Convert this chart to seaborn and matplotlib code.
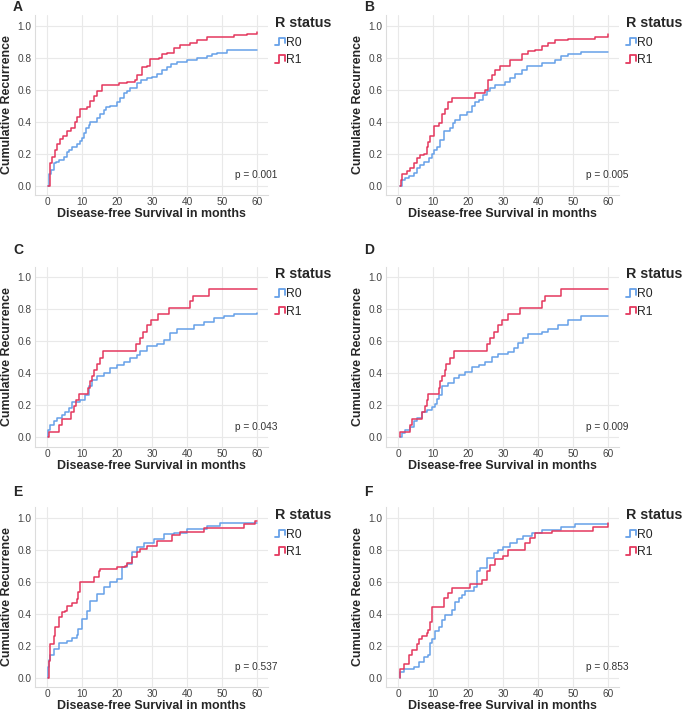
"""Cumulative recurrence curves by R status, six panels."""

import matplotlib
matplotlib.use('Agg')
import matplotlib.pyplot as plt
from matplotlib.legend_handler import HandlerBase
from matplotlib.lines import Line2D
import pandas as pd
import seaborn as sns

# step points (month, cumulative recurrence)
A_R0_t = [0.3, 0.7, 1.2, 1.9, 2.6, 3.3, 4.8, 5.7, 6.4, 7.1, 8.6, 9.3, 10.0, 10.5, 11.2, 12.0, 12.4, 14.3, 15.2, 16.2,
          17.0, 18.1, 20.0, 21.0, 21.9, 23.0, 23.8, 25.7, 27.0, 28.6, 30.0, 31.4, 33.0, 34.3, 35.5, 37.1, 40.0, 42.9,
          45.7, 47.0, 48.6, 51.4, 60.0]
A_R0_v = [0.0, 0.07, 0.10, 0.14, 0.15, 0.16, 0.18, 0.21, 0.22, 0.24, 0.26, 0.28, 0.30, 0.33, 0.36, 0.38, 0.40, 0.42,
          0.45, 0.47, 0.49, 0.50, 0.525, 0.55, 0.58, 0.59, 0.61, 0.64, 0.66, 0.67, 0.68, 0.70, 0.72, 0.74, 0.76, 0.775,
          0.785, 0.795, 0.81, 0.82, 0.83, 0.85, 0.85]
A_R1_t = [0.3, 0.9, 1.5, 2.2, 3.0, 3.8, 4.5, 5.7, 7.0, 8.0, 8.6, 9.5, 11.4, 12.4, 13.3, 14.3, 15.7, 20.5, 22.9, 25.2,
          25.7, 27.1, 28.6, 29.5, 32.0, 33.0, 34.3, 36.2, 38.1, 41.0, 42.9, 45.7, 53.3, 57.1, 60.0]
A_R1_v = [0.0, 0.14, 0.18, 0.22, 0.26, 0.29, 0.31, 0.34, 0.36, 0.40, 0.43, 0.48, 0.49, 0.53, 0.56, 0.59, 0.63, 0.64,
          0.65, 0.66, 0.69, 0.74, 0.75, 0.79, 0.80, 0.82, 0.83, 0.86, 0.88, 0.89, 0.91, 0.93, 0.94, 0.95, 0.96]

B_R0_t = [0.5, 1.1, 2.0, 3.0, 4.5, 5.4, 6.3, 7.3, 8.8, 9.7, 10.4, 11.1, 12.1, 13.0, 14.9, 15.6, 16.3, 17.8, 19.7, 21.1,
          22.0, 23.0, 24.4, 25.4, 26.3, 27.7, 30.6, 32.0, 33.4, 35.3, 36.8, 41.0, 44.8, 46.7, 48.6, 52.4, 60.0]
B_R0_v = [0.0, 0.035, 0.05, 0.06, 0.08, 0.11, 0.13, 0.15, 0.17, 0.20, 0.22, 0.24, 0.285, 0.34, 0.36, 0.39, 0.41, 0.44,
          0.46, 0.50, 0.52, 0.535, 0.565, 0.59, 0.61, 0.63, 0.65, 0.67, 0.70, 0.72, 0.75, 0.765, 0.785, 0.81, 0.825,
          0.835, 0.835]
B_R1_t = [0.5, 0.8, 1.1, 2.5, 3.5, 4.5, 5.4, 6.4, 7.3, 8.3, 8.7, 9.2, 10.2, 11.6, 12.5, 13.5, 14.4, 15.4, 22.0, 24.9,
          25.8, 26.8, 27.7, 29.2, 32.0, 35.3, 37.2, 39.1, 41.0, 42.9, 44.8, 48.6, 56.2, 60.0]
B_R1_v = [0.0, 0.035, 0.07, 0.09, 0.11, 0.14, 0.17, 0.19, 0.20, 0.24, 0.275, 0.31, 0.37, 0.39, 0.45, 0.48, 0.525, 0.55,
          0.58, 0.60, 0.66, 0.69, 0.72, 0.75, 0.785, 0.82, 0.84, 0.85, 0.87, 0.89, 0.91, 0.915, 0.93, 0.95]

C_R0_t = [0.2, 0.4, 1.0, 1.9, 2.9, 4.3, 5.2, 6.2, 7.1, 9.5, 11.0, 11.9, 12.9, 14.3, 16.2, 18.1, 20.0, 21.9, 23.8, 25.7,
          26.7, 28.6, 31.4, 33.3, 35.2, 37.1, 41.9, 44.8, 47.6, 50.5, 53.3, 60.0]
C_R0_v = [0.0, 0.045, 0.077, 0.10, 0.12, 0.14, 0.16, 0.18, 0.22, 0.235, 0.265, 0.32, 0.36, 0.38, 0.40, 0.43, 0.45, 0.47,
          0.495, 0.515, 0.54, 0.57, 0.58, 0.61, 0.65, 0.675, 0.70, 0.72, 0.745, 0.76, 0.77, 0.775]
C_R1_t = [0.3, 0.5, 3.4, 4.3, 7.0, 7.7, 8.4, 9.2, 11.7, 12.2, 12.8, 13.5, 14.3, 15.2, 15.9, 25.5, 26.5, 27.5, 28.7, 29.7,
          31.7, 34.8, 40.8, 41.8, 46.4, 60.0]
C_R1_v = [0.0, 0.035, 0.077, 0.115, 0.155, 0.195, 0.23, 0.27, 0.31, 0.35, 0.385, 0.42, 0.46, 0.495, 0.54, 0.58, 0.62,
          0.66, 0.70, 0.735, 0.77, 0.81, 0.85, 0.885, 0.925, 0.925]

D_R0_t = [0.5, 1.1, 2.1, 3.5, 4.5, 5.4, 6.8, 8.3, 9.7, 10.6, 11.1, 11.6, 12.5, 14.4, 15.9, 17.3, 19.2, 21.1, 23.0, 24.9,
          26.8, 28.7, 31.5, 33.0, 34.4, 35.8, 37.2, 41.0, 42.9, 45.8, 48.6, 52.4, 60.0]
D_R0_v = [0.0, 0.025, 0.045, 0.065, 0.10, 0.12, 0.155, 0.17, 0.19, 0.21, 0.24, 0.265, 0.32, 0.34, 0.37, 0.39, 0.41, 0.44,
          0.45, 0.47, 0.50, 0.52, 0.53, 0.56, 0.59, 0.62, 0.645, 0.655, 0.675, 0.70, 0.735, 0.755, 0.76]
D_R1_t = [0.5, 0.7, 3.5, 4.0, 6.8, 7.8, 8.3, 8.7, 11.6, 12.1, 12.5, 13.3, 13.8, 14.9, 15.9, 25.4, 26.3, 27.3, 28.7, 29.6,
          31.5, 34.9, 41.0, 42.0, 46.7, 60.0]
D_R1_v = [0.0, 0.035, 0.077, 0.115, 0.155, 0.195, 0.23, 0.27, 0.31, 0.35, 0.385, 0.42, 0.46, 0.495, 0.54, 0.58, 0.62,
          0.66, 0.70, 0.735, 0.77, 0.81, 0.85, 0.885, 0.925, 0.925]

E_R0_t = [0.2, 0.3, 0.6, 1.0, 1.9, 3.3, 5.7, 7.1, 8.6, 9.0, 10.0, 11.4, 12.4, 14.3, 16.2, 18.1, 20.0, 21.4, 22.9, 24.3,
          25.7, 27.6, 30.5, 33.3, 36.2, 40.0, 45.7, 49.5, 60.0]
E_R0_v = [0.0, 0.065, 0.11, 0.14, 0.18, 0.215, 0.23, 0.25, 0.27, 0.305, 0.37, 0.42, 0.48, 0.525, 0.565, 0.60, 0.62, 0.69,
          0.71, 0.785, 0.815, 0.84, 0.87, 0.90, 0.905, 0.93, 0.95, 0.965, 0.965]
E_R1_t = [0.3, 0.5, 1.0, 1.9, 2.4, 3.3, 4.3, 5.2, 5.7, 7.1, 8.6, 9.0, 9.5, 13.3, 14.8, 15.2, 20.0, 22.4, 22.9, 24.3,
          25.7, 26.7, 28.6, 31.4, 35.7, 38.1, 44.8, 56.2, 59.5, 60.0]
E_R1_v = [0.0, 0.105, 0.21, 0.26, 0.315, 0.38, 0.41, 0.42, 0.45, 0.47, 0.49, 0.535, 0.60, 0.63, 0.665, 0.68, 0.695, 0.70,
          0.72, 0.755, 0.785, 0.805, 0.825, 0.855, 0.89, 0.91, 0.935, 0.96, 0.98, 0.98]

F_R0_t = [0.5, 0.7, 1.6, 4.5, 5.9, 7.3, 8.7, 9.2, 9.7, 10.6, 11.6, 12.5, 13.5, 15.4, 16.3, 17.3, 18.2, 19.2, 21.6, 22.5,
          23.5, 25.4, 27.3, 28.7, 30.1, 32.0, 33.9, 35.8, 38.2, 41.0, 46.7, 50.5, 60.0]
F_R0_v = [0.0, 0.035, 0.057, 0.07, 0.10, 0.13, 0.14, 0.215, 0.245, 0.29, 0.32, 0.36, 0.39, 0.425, 0.475, 0.50, 0.52,
          0.54, 0.57, 0.665, 0.685, 0.75, 0.78, 0.80, 0.82, 0.845, 0.865, 0.885, 0.905, 0.925, 0.94, 0.96, 0.96]
F_R1_t = [0.5, 0.7, 1.6, 3.0, 4.0, 5.4, 5.9, 6.8, 8.3, 8.7, 9.2, 9.7, 13.0, 14.4, 15.4, 20.6, 23.9, 25.4, 26.3, 27.7,
          30.1, 31.5, 36.3, 37.7, 39.1, 43.9, 55.7, 60.0]
F_R1_v = [0.0, 0.057, 0.088, 0.14, 0.175, 0.21, 0.245, 0.26, 0.28, 0.30, 0.35, 0.445, 0.50, 0.53, 0.56, 0.587, 0.61,
          0.665, 0.705, 0.74, 0.76, 0.80, 0.845, 0.875, 0.905, 0.915, 0.945, 0.97]

panel_labels = ['A', 'B', 'C', 'D', 'E', 'F']
p_values = ['p = 0.001', 'p = 0.005', 'p = 0.043', 'p = 0.009', 'p = 0.537', 'p = 0.853']
curves = [(A_R0_t, A_R0_v, A_R1_t, A_R1_v), (B_R0_t, B_R0_v, B_R1_t, B_R1_v),
          (C_R0_t, C_R0_v, C_R1_t, C_R1_v), (D_R0_t, D_R0_v, D_R1_t, D_R1_v),
          (E_R0_t, E_R0_v, E_R1_t, E_R1_v), (F_R0_t, F_R0_v, F_R1_t, F_R1_v)]
groups = ['R0', 'R1']
x_ticks = [0, 10, 20, 30, 40, 50, 60]
y_ticks = [0.0, 0.2, 0.4, 0.6, 0.8, 1.0]

colors = {'R0': '#66a0e8', 'R1': '#e4385e'}


class StepHandler(HandlerBase):
    """Small step-shaped legend icon."""
    def create_artists(self, legend, orig_handle, xdescent, ydescent,
                       width, height, fontsize, trans):
        x0 = -xdescent
        y0 = -ydescent
        xs = [x0, x0 + 0.45 * width, x0 + 0.45 * width, x0 + width, x0 + width]
        ys = [y0 + 0.1 * height, y0 + 0.1 * height, y0 + 0.9 * height,
              y0 + 0.9 * height, y0 + 0.3 * height]
        line = Line2D(xs, ys, color=orig_handle.get_color(), lw=1.3, transform=trans)
        return [line]


sns.set_style('whitegrid')
plt.rcParams['font.family'] = ['Liberation Sans', 'DejaVu Sans']

fig = plt.figure(figsize=(6.84, 7.16), dpi=100)

col_left = [0.0513, 0.5645]
row_bottom = [0.7277, 0.3763, 0.0405]
letter_y = [1.045, 1.094, 1.085]
ax_w, ax_h = 0.3403, 0.2514

for i, (r0_t, r0_v, r1_t, r1_v) in enumerate(curves):
    row, col = divmod(i, 2)
    ax = fig.add_axes([col_left[col], row_bottom[row], ax_w, ax_h])

    df = pd.concat([
        pd.DataFrame({'time': r0_t, 'value': r0_v, 'R status': 'R0'}),
        pd.DataFrame({'time': r1_t, 'value': r1_v, 'R status': 'R1'}),
    ])
    sns.lineplot(data=df, x='time', y='value', hue='R status', palette=colors,
                 estimator=None, drawstyle='steps-post', lw=1.1, legend=False, ax=ax)

    ax.set_xlim(-3.4, 63.1)
    ax.set_ylim(-0.058, 1.067)
    ax.set_xticks(x_ticks)
    ax.set_yticks(y_ticks)
    ax.set_yticklabels([f'{t:.1f}' for t in y_ticks])
    ax.tick_params(length=0, labelsize=7.3, labelcolor='#444444', pad=2.5)
    ax.tick_params(axis='x', pad=1.5)
    ax.grid(True, color='#e9e9e9', lw=0.8)
    for side in ['top', 'right']:
        ax.spines[side].set_visible(False)
    for side in ['left', 'bottom']:
        ax.spines[side].set_color('#dcdcdc')
        ax.spines[side].set_linewidth(0.8)

    ax.set_xlabel('Disease-free Survival in months', fontsize=8.9, fontweight='bold', labelpad=1.0)
    ax.set_ylabel('Cumulative Recurrence', fontsize=8.9, fontweight='bold', labelpad=3)

    ax.text(1.04, 0.11, p_values[i], transform=ax.transAxes, ha='right', va='center',
            fontsize=7.3, color='#333333')
    ax.text(-0.095, letter_y[row], panel_labels[i], transform=ax.transAxes, ha='left', va='center',
            fontsize=10, fontweight='bold')

    handles = [Line2D([], [], color=colors[g]) for g in groups]
    leg = ax.legend(handles, groups, title='R status', loc='upper left',
                    bbox_to_anchor=(1.03, 0.995), frameon=False, fontsize=8.8,
                    title_fontproperties={'weight': 'bold', 'size': 10.3},
                    handler_map={Line2D: StepHandler()}, handlelength=0.8,
                    handleheight=0.8, handletextpad=0.1, labelspacing=0.45,
                    borderaxespad=0.0, borderpad=0.0)
    leg._legend_box.align = 'left'
    leg._legend_box.sep = 5

fig.savefig('out.png', dpi=100)
